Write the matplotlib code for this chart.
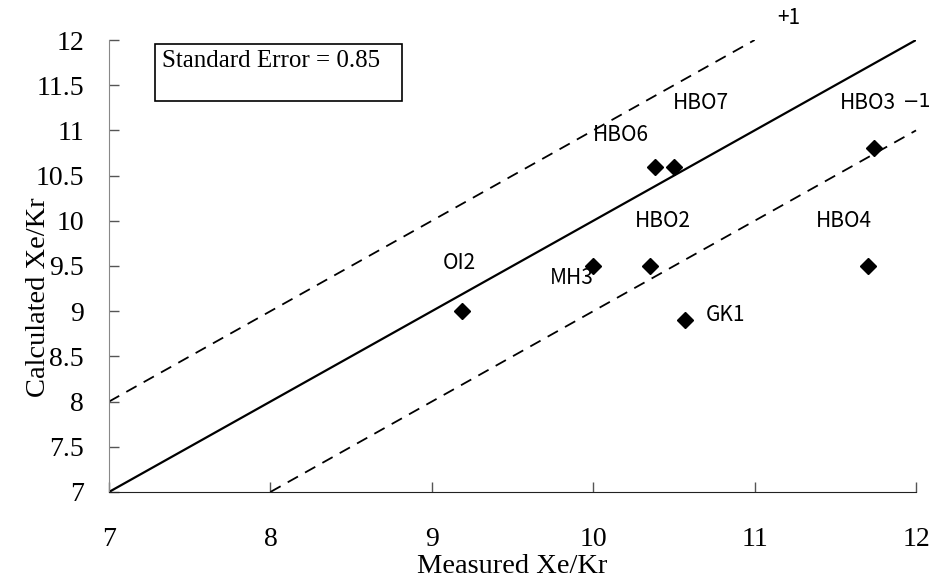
import matplotlib
matplotlib.use("Agg")
import matplotlib.pyplot as plt
from matplotlib.patches import Rectangle

# Sample data
names    = ["HBO6", "HBO7", "HBO3", "HBO2", "MH3", "OI2", "GK1", "HBO4"]
measured = [10.38, 10.50, 11.74, 10.35, 10.00, 9.19, 10.57, 11.70]
calc     = [10.60, 10.60, 10.80, 9.50, 9.50, 9.00, 8.90, 9.50]
# label anchor positions (data coords)
lab_x    = [10.17, 10.67, 11.70, 10.43, 9.87, 9.17, 10.82, 11.55]
lab_y    = [10.95, 11.30, 11.30, 10.00, 9.37, 9.53, 8.96, 10.00]

line_x  = [7, 12]
plus_x  = [7, 11]
minus_x = [8, 12]
std_err = 0.85

serif = "Liberation Serif"
sans = ["Noto Sans CJK JP", "DejaVu Sans"]

fig = plt.figure(figsize=(9.33, 5.85), dpi=100)
ax = fig.add_axes([0.1168, 0.159, 0.8650, 0.7726])

# 1:1 line and +/-1 bands
ax.plot(line_x, line_x, color="black", lw=1.6)
ax.plot(plus_x, [v + 1 for v in plus_x], color="black", lw=1.3,
        linestyle=(0, (6.5, 4.5)))
ax.plot(minus_x, [v - 1 for v in minus_x], color="black", lw=1.3,
        linestyle=(0, (6.5, 4.5)), clip_on=False)

ax.plot(measured, calc, linestyle="none", marker="D", ms=8.5,
        color="black", clip_on=False)

for n, x, y in zip(names, lab_x, lab_y):
    ax.text(x, y, n, ha="center", va="center", fontsize=15, family=sans)

ax.text(11.21, 12.24, "+1", ha="center", va="center", fontsize=15,
        family=sans, clip_on=False)
ax.text(12.095, 11.32, "\u22121", ha="right", va="center", fontsize=14,
        family=["DejaVu Sans"], clip_on=False)

# standard error box
ax.add_patch(Rectangle((0.057, 0.865), 0.306, 0.126, transform=ax.transAxes,
                       facecolor="white", edgecolor="black", lw=1.2))
ax.text(0.066, 0.953, f"Standard Error = {std_err}", transform=ax.transAxes,
        ha="left", va="center", fontsize=18, family=serif)

ax.set_xlim(7, 12)
ax.set_ylim(7, 12)
ax.set_xticks([7, 8, 9, 10, 11, 12])
ax.set_yticks([7, 7.5, 8, 8.5, 9, 9.5, 10, 10.5, 11, 11.5, 12])
ax.set_yticklabels(["7", "7.5", "8", "8.5", "9", "9.5", "10", "10.5",
                    "11", "11.5", "12"])
ax.tick_params(direction="in", length=7, width=1, color="#555555",
               labelsize=20)
ax.tick_params(axis="x", pad=25)
ax.tick_params(axis="y", pad=18)
for lbl in ax.get_xticklabels() + ax.get_yticklabels():
    lbl.set_family(serif)

ax.spines["top"].set_visible(False)
ax.spines["right"].set_visible(False)
ax.spines["left"].set_color("#888888")
ax.spines["bottom"].set_color("#222222")

ax.set_xlabel("Measured Xe/Kr", fontsize=20.5, family=serif, labelpad=2)
ax.set_ylabel("Calculated Xe/Kr", fontsize=20.5, family=serif)
ax.yaxis.set_label_coords(-0.072, 0.43)

fig.savefig("out.png", dpi=100)
